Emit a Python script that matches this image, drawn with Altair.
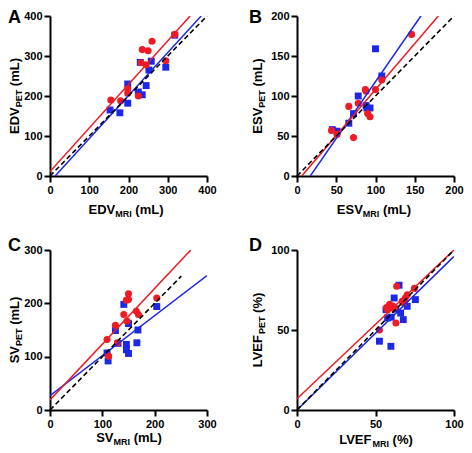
import altair as alt
import pandas as pd

RED = "#ed1c24"
BLUE = "#1c28e8"
TITLE_FONT = "Liberation Sans"
TICK_FONT = "Liberation Sans"

# ---------------- data ----------------
# Panel A: EDV (mL)
a_red_x = [155, 180, 198, 198, 225, 232, 235, 250, 245, 260, 295, 318]
a_red_y = [190, 188, 218, 207, 200, 283, 316, 313, 278, 337, 288, 354]
a_blue_x = [153, 178, 198, 198, 225, 235, 245, 230, 252, 258, 295, 318]
a_blue_y = [165, 158, 230, 182, 210, 203, 226, 284, 265, 287, 272, 352]
a_ticks = [0, 100, 200, 300, 400]
a_red_fit = [1.09, 11, 0, 357]      # slope, intercept, x start, x end
a_blue_fit = [1.075, -14, 13, 385]
a_identity = [0, 400]

# Panel B: ESV (mL)
b_red_x = [44, 51, 66, 72, 78, 87, 88, 90, 93, 100, 108, 146]
b_red_y = [57, 52, 87, 48, 91, 108, 106, 78, 74, 108, 120, 177]
b_blue_x = [45, 51, 66, 72, 78, 88, 89, 93, 100, 108]
b_blue_y = [58, 56, 66, 78, 100, 88, 85, 85, 159, 125]
b_ticks = [0, 50, 100, 150, 200]
b_red_fit = [1.15, -7, 6, 180]
b_blue_fit = [1.42, -24, 17, 158]
b_identity = [0, 200]

# Panel C: SV (mL)
c_red_x = [109, 112, 125, 129, 141, 146, 150, 150, 147, 165, 169, 204]
c_red_y = [132, 101, 159, 126, 179, 206, 218, 207, 167, 185, 179, 210]
c_blue_x = [109, 111, 125, 130, 141, 146, 146, 150, 150, 166, 168, 204]
c_blue_y = [107, 92, 149, 125, 198, 123, 113, 106, 162, 126, 150, 194]
c_ticks = [0, 100, 200, 300]
c_red_fit = [1.045, 19, 0, 269]
c_blue_fit = [0.75, 27, 0, 300]
c_identity = [0, 251]

# Panel D: LVEF (%)
d_red_x = [52.5, 57, 57.7, 58.7, 59, 60.8, 61, 62, 63, 63.5, 67, 68, 69, 70.2, 74.8]
d_red_y = [50, 64, 62.7, 65, 66, 63.7, 65, 64, 54.4, 77.3, 68, 67, 70, 72, 76]
d_blue_x = [52.5, 59.8, 56.7, 57.7, 61.9, 65, 66, 67.7, 70.2, 75.4, 60, 63]
d_blue_y = [43, 39.8, 62.7, 57.5, 70, 78, 60.6, 56.5, 64.8, 69, 58, 63]
d_ticks = [0, 50, 100]
d_red_fit = [0.93, 7, 0, 100]
d_blue_fit = [0.96, 0, 0, 100]
d_identity = [0, 100]

# --------------- helpers ---------------
ARIAL_BOLD = {'E': 667, 'D': 722, 'V': 667, 'S': 667, 'L': 611, 'F': 611, 'M': 833,
              'R': 722, 'I': 278, 'P': 667, 'T': 611, ' ': 278, '(': 333, ')': 333,
              'm': 889, '%': 889}
MAIN = 13
SUB = 9
SPACE = ARIAL_BOLD[' '] * MAIN / 1000
DUMMY = pd.DataFrame({"d": [0]})
PW = 157   # panel plot width
PH = 160   # panel plot height


def tw(s, size):
    return sum(ARIAL_BOLD[c] for c in s) * size / 1000


def text_layer(s, x, y, size, angle=0, font=TITLE_FONT):
    return alt.Chart(DUMMY).mark_text(
        align="left", baseline="alphabetic", font=font, fontSize=size,
        fontWeight="bold", color="black", angle=angle
    ).encode(x=alt.value(x), y=alt.value(y), text=alt.value(s))


def title_layers(main, sub, unit, center, base, vertical):
    pieces = [(main, MAIN, 0, 0), (sub, SUB, 3, SPACE), (unit, MAIN, 0, 0)]
    total = sum(tw(s, z) + g for s, z, _, g in pieces)
    out = []
    if not vertical:
        pos = center - total / 2
        for s, z, dy, g in pieces:
            out.append(text_layer(s, pos, base + dy, z))
            pos += tw(s, z) + g
    else:
        pos = center + total / 2
        for s, z, dy, g in pieces:
            out.append(text_layer(s, base + dy, pos, z, angle=270))
            pos -= tw(s, z) + g
    return out


def fit_df(f):
    s, i, x0, x1 = f
    return pd.DataFrame({"x": [x0, x1], "y": [s * x0 + i, s * x1 + i]})


def panel(rx, ry, bx, by, ticks, rfit, bfit, ident, letter, name, unit, geo):
    dom = [ticks[0], ticks[-1]]
    axis = alt.Axis(values=ticks, title=None, format="d", labelFlush=False, labelOverlap=False)
    xs = alt.X("x:Q", scale=alt.Scale(domain=dom, nice=False, zero=False), axis=axis)
    ys = alt.Y("y:Q", scale=alt.Scale(domain=dom, nice=False, zero=False), axis=axis)
    blue_pts = alt.Chart(pd.DataFrame({"x": bx, "y": by})).mark_square(
        size=48, color=BLUE, opacity=1).encode(x=xs, y=ys)
    red_pts = alt.Chart(pd.DataFrame({"x": rx, "y": ry})).mark_circle(
        size=50, color=RED, opacity=1).encode(x=xs, y=ys)
    red_line = alt.Chart(fit_df(rfit)).mark_line(color=RED, strokeWidth=1.5, clip=True).encode(x=xs, y=ys)
    blue_line = alt.Chart(fit_df(bfit)).mark_line(color=BLUE, strokeWidth=1.5, clip=True).encode(x=xs, y=ys)
    id_line = alt.Chart(pd.DataFrame({"x": ident, "y": ident})).mark_line(
        color="black", strokeWidth=1.6, strokeDash=[5, 3]).encode(x=xs, y=ys)
    lx, ly, ycx, ycy, xcx, xby = geo
    layers = [blue_pts, red_pts, blue_line, red_line, id_line,
              text_layer(letter, lx, ly, 18, font="Liberation Sans")]
    layers += title_layers(name, "MRI", unit, xcx, xby, False)
    layers += title_layers(name, "PET", unit, ycy, ycx, True)
    return alt.layer(*layers).properties(width=PW, height=PH)


# geo: letter x, letter baseline y, ytitle baseline x, ytitle center y, xtitle center x, xtitle baseline y
pa = panel(a_red_x, a_red_y, a_blue_x, a_blue_y, a_ticks, a_red_fit, a_blue_fit, a_identity,
           "A", "EDV", "(mL)", (-42, 7, -31, 80, 76, 198))
pb = panel(b_red_x, b_red_y, b_blue_x, b_blue_y, b_ticks, b_red_fit, b_blue_fit, b_identity,
           "B", "ESV", "(mL)", (-48, 7, -35, 80, 77, 198))
pc = panel(c_red_x, c_red_y, c_blue_x, c_blue_y, c_ticks, c_red_fit, c_blue_fit, c_identity,
           "C", "SV", "(mL)", (-42, 1, -31, 80, 79, 192))
pdn = panel(d_red_x, d_red_y, d_blue_x, d_blue_y, d_ticks, d_red_fit, d_blue_fit, d_identity,
            "D", "LVEF", "(%)", (-48, 1, -35, 80, 79, 194))

chart = alt.concat(pa, pb, pc, pdn, columns=2, spacing={"row": 74, "column": 90},
                   bounds="flush").properties(
    padding={"top": 1, "left": 0, "right": 0, "bottom": 0}
).configure_axis(
    domainColor="black", domainWidth=2, tickColor="black", tickWidth=2, tickSize=6,
    labelFont=TICK_FONT, labelFontWeight="bold", labelFontSize=11, labelColor="black",
    labelPadding=2, grid=False
).configure_view(strokeWidth=0)

chart.save("out.html", embed_options={"renderer": "svg", "actions": False})
